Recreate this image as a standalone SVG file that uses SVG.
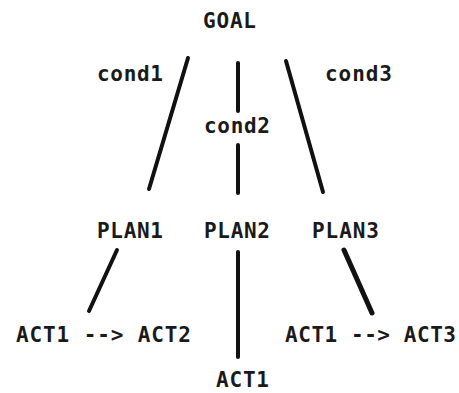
<svg xmlns="http://www.w3.org/2000/svg" width="459" height="393" viewBox="0 0 459 393">
<style>
.t{font-family:"DejaVu Sans Mono","Liberation Mono",monospace;font-weight:bold;font-size:21px;fill:#1a1a1a}
.e{stroke:#111;stroke-width:4;stroke-linecap:round;fill:none}
</style>
<rect width="459" height="393" fill="#fff"/>
<g id="connectors">
<line class="e" x1="188" y1="58" x2="149" y2="189"/>
<line class="e" x1="238" y1="63" x2="238" y2="111"/>
<line class="e" x1="238" y1="145" x2="238" y2="193"/>
<line class="e" x1="286" y1="61" x2="323" y2="192"/>
<line class="e" x1="117" y1="250" x2="89" y2="311"/>
<line class="e" x1="238" y1="252" x2="238" y2="357"/>
<line class="e" x1="344" y1="250" x2="372" y2="313" style="stroke-width:5"/>
</g>
<g id="goal"><text class="t" x="203" y="28" textLength="53">GOAL</text></g>
<g id="cond1"><text class="t" x="97" y="81" textLength="66">cond1</text></g>
<g id="cond2"><text class="t" x="204" y="133" textLength="66">cond2</text></g>
<g id="cond3"><text class="t" x="325" y="81" textLength="67">cond3</text></g>
<g id="plan1"><text class="t" x="97" y="238" textLength="66">PLAN1</text></g>
<g id="plan2"><text class="t" x="204" y="238" textLength="66">PLAN2</text></g>
<g id="plan3"><text class="t" x="312" y="238" textLength="67">PLAN3</text></g>
<g id="act1-act2"><text class="t" x="16" y="342" textLength="175">ACT1 --&gt; ACT2</text></g>
<g id="act1-act3"><text class="t" x="285" y="342" textLength="171">ACT1 --&gt; ACT3</text></g>
<g id="act1"><text class="t" x="216" y="387" textLength="53">ACT1</text></g>
</svg>
